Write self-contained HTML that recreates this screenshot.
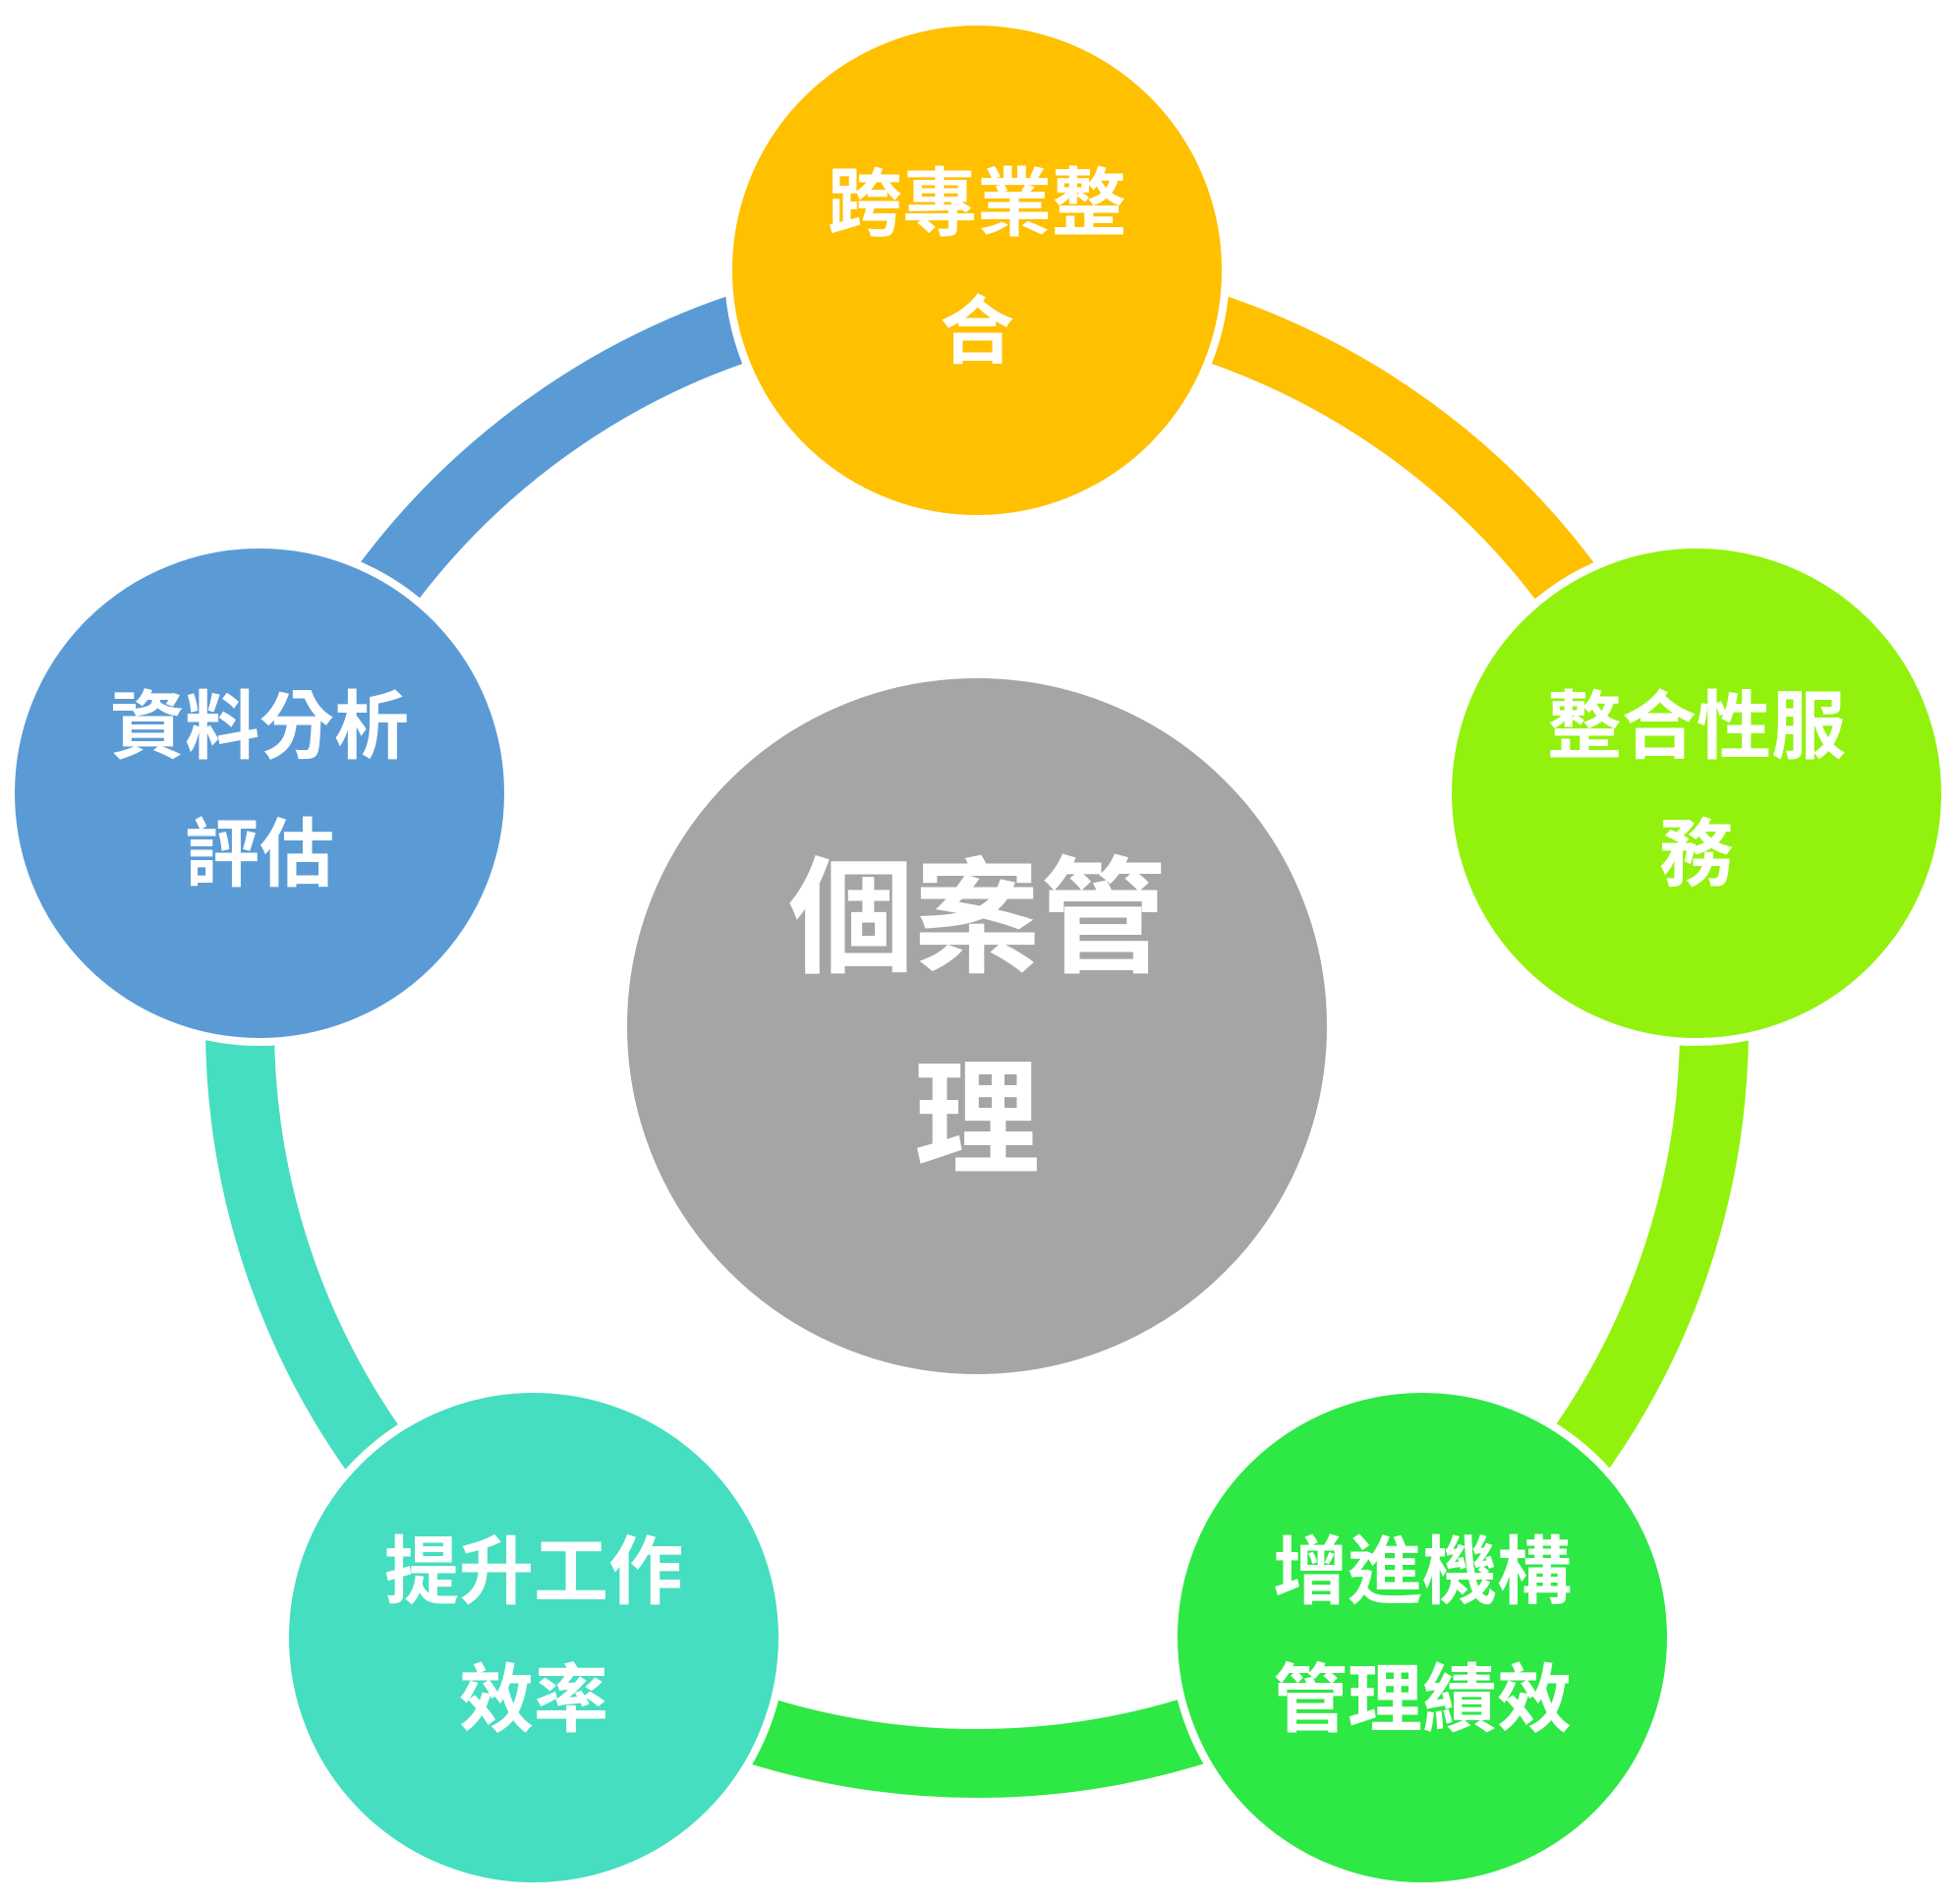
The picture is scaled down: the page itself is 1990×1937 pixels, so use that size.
<!DOCTYPE html>
<html><head><meta charset="utf-8"><style>
html,body{margin:0;padding:0;background:#fff;}
svg{display:block;}
text{font-family:"Liberation Sans","Noto Sans CJK TC","Noto Sans CJK SC",sans-serif;font-weight:bold;fill:#fff;text-anchor:middle;dominant-baseline:central;}
</style></head><body>
<svg width="1990" height="1937" viewBox="0 0 1990 1937" xmlns="http://www.w3.org/2000/svg">
<g fill="none" stroke-width="70">
<path d="M994,294 A750,750 0 0 1 1707.3,812.2" stroke="#FFC000"/>
<path d="M1707.3,812.2 A750,750 0 0 1 1434.8,1650.8" stroke="#92F20E"/>
<path d="M1434.8,1650.8 A750,750 0 0 1 553.2,1650.8" stroke="#2EE845"/>
<path d="M553.2,1650.8 A750,750 0 0 1 280.7,812.2" stroke="#45DEC0"/>
<path d="M280.7,812.2 A750,750 0 0 1 994,294" stroke="#5B9BD5"/>
</g>
<g stroke="#fff" stroke-width="8">
<circle cx="994" cy="275" r="253" fill="#FFC000"/>
<circle cx="1726" cy="807" r="253" fill="#92F20E"/>
<circle cx="1447" cy="1666" r="253" fill="#2EE845"/>
<circle cx="543" cy="1666" r="253" fill="#45DEC0"/>
<circle cx="264" cy="807" r="253" fill="#5B9BD5"/>
<ellipse cx="994" cy="1044" rx="360" ry="358" fill="#A5A5A5"/>
</g>
<g font-size="76">
<text x="994" y="208">跨專業整</text><text x="994" y="338">合</text>
<text x="1726" y="740">整合性服</text><text x="1726" y="870">務</text>
<text x="1447" y="1600">增進機構</text><text x="1447" y="1730">管理績效</text>
<text x="543" y="1600">提升工作</text><text x="543" y="1730">效率</text>
<text x="264" y="740">資料分析</text><text x="264" y="870">評估</text>
</g>
<g font-size="128">
<text x="994" y="935">個案管</text><text x="994" y="1140">理</text>
</g>
</svg>
</body></html>
